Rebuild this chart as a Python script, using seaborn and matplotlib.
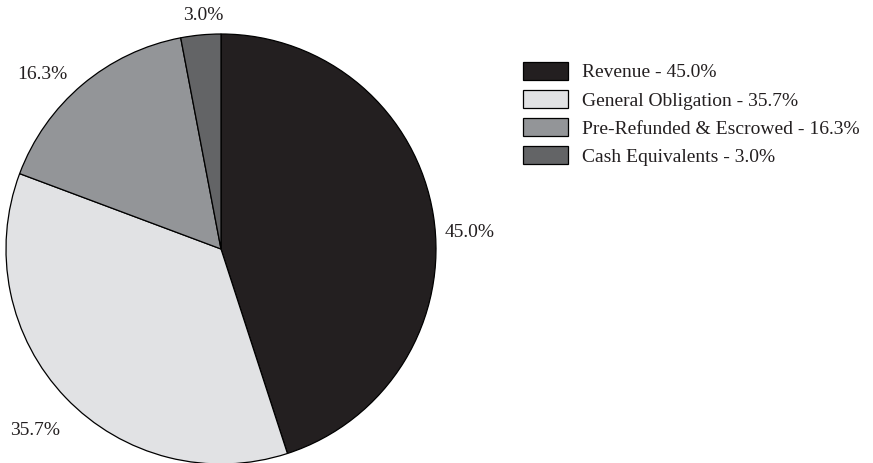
import matplotlib
matplotlib.use("Agg")
import matplotlib.pyplot as plt
import seaborn as sns
import numpy as np

categories = ["Revenue", "General Obligation", "Pre-Refunded & Escrowed", "Cash Equivalents"]
values = [45.0, 35.7, 16.3, 3.0]
colors = ["#231f20", "#e1e2e4", "#939598", "#636466"]
label_dist = [1.16, 1.21, 1.16, 1.09]
label_ang_shift = [-5.3, 0.6, 5.6, -1.0]

sns.set_theme(style="white")
plt.rcParams["font.family"] = ["Liberation Serif", "DejaVu Serif"]

fig = plt.figure(figsize=(8.73, 4.63), dpi=100)
W, H = 873, 463
ax = fig.add_axes([6 / W, (H - 464) / H, 430 / W, 430 / H])

wedges, _ = ax.pie(values, colors=colors, startangle=90, counterclock=False,
                   wedgeprops=dict(edgecolor="black", linewidth=0.9))
ax.set_xlim(-1, 1)
ax.set_ylim(-1, 1)
ax.set_aspect("equal")
ax.axis("off")

fs = 14
for w, v, d, s in zip(wedges, values, label_dist, label_ang_shift):
    ang = np.deg2rad((w.theta1 + w.theta2) / 2 + s)
    ax.text(d * np.cos(ang), d * np.sin(ang), f"{v:.1f}%", ha="center", va="center",
            fontsize=fs, color="#231f20", clip_on=False)

labels = [f"{c} - {v:.1f}%" for c, v in zip(categories, values)]
leg = fig.legend(wedges, labels, loc="upper left", bbox_to_anchor=(515 / W, 1 - 54 / H),
                 frameon=False, fontsize=fs, handlelength=2.32, handleheight=1.05,
                 handletextpad=0.72, labelspacing=0.44, borderaxespad=0)
for t in leg.get_texts():
    t.set_color("#231f20")

fig.savefig("out.png", dpi=100)
